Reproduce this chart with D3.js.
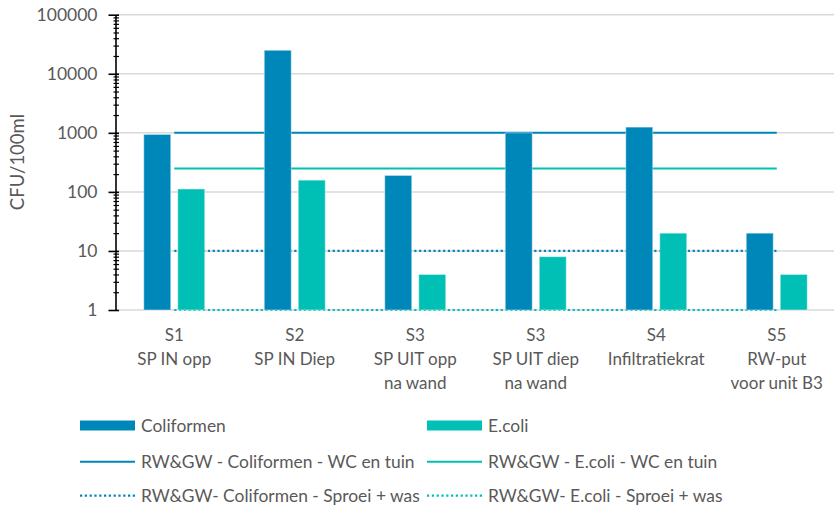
<!DOCTYPE html>
<html><head><meta charset="utf-8">
<script src="https://cdn.jsdelivr.net/npm/d3@7"></script>
<style>
html,body{margin:0;padding:0;background:#fff;}
text{font-family:Lato, "Open Sans", sans-serif;fill:#595959;}
</style>
</head><body>
<svg id="c" width="834" height="509"></svg>
<script>
const categories = [
  ["S1","SP IN opp"],
  ["S2","SP IN Diep"],
  ["S3","SP UIT opp","na wand"],
  ["S3","SP UIT diep","na wand"],
  ["S4","Infiltratiekrat"],
  ["S5","RW-put","voor unit B3"]
];
const seriesNames = ["Coliformen","E.coli"];
const coliformen = [940, 25000, 190, 1000, 1250, 20];
const ecoli = [112, 158, 4, 8, 20, 4];
const normColiWC = [1000,1000,1000,1000,1000,1000];
const normEcoliWC = [250,250,250,250,250,250];
const normColiSproei = [10,10,10,10,10,10];
const normEcoliSproei = [1,1,1,1,1,1];
const yTicks = [1,10,100,1000,10000,100000];
const yTitle = "CFU/100ml";
const legendLabels = [
  "Coliformen","E.coli",
  "RW&GW - Coliformen - WC en tuin","RW&GW - E.coli - WC en tuin",
  "RW&GW- Coliformen - Sproei + was","RW&GW- E.coli - Sproei + was"
];

const BLUE = "#0087b9", TEAL = "#00bfb4";
const svg = d3.select("#c");
const catIdx = categories.map((d,i)=>i);

const x0 = d3.scaleBand().domain(catIdx).range([114, 837]).paddingInner(0).paddingOuter(0);
const x1 = d3.scaleBand().domain(seriesNames).range([0, x0.bandwidth()]).paddingInner(7/34).paddingOuter(0.875);
const y = d3.scaleLog().domain([1, 100000]).range([310, 14.7]);

// gridlines
svg.append("g").selectAll("line").data(yTicks).join("line")
  .attr("x1", 116).attr("x2", 834)
  .attr("y1", d=>y(d)).attr("y2", d=>y(d))
  .attr("stroke", "#d9d9d9").attr("stroke-width", 1.5);

// norm lines
const cx = i => x0(i) + x0.bandwidth()/2;
const line = d3.line().x((d,i)=>cx(i)).y(d=>y(d));
const lines = [
  {v: normColiWC, c: BLUE, dash: null},
  {v: normEcoliWC, c: TEAL, dash: null},
  {v: normColiSproei, c: BLUE, dash: "2.2,2.6"},
  {v: normEcoliSproei, c: TEAL, dash: "2.2,2.6"}
];
svg.append("g").selectAll("path").data(lines).join("path")
  .attr("d", d=>line(d.v)).attr("fill","none")
  .attr("stroke", d=>d.c).attr("stroke-width", d=>d.dash?2.2:2)
  .attr("stroke-dasharray", d=>d.dash);

// bars
const barData = [];
catIdx.forEach(i=>{
  barData.push({i, s:"Coliformen", v:coliformen[i], c:BLUE});
  barData.push({i, s:"E.coli", v:ecoli[i], c:TEAL});
});
svg.append("g").selectAll("rect").data(barData).join("rect")
  .attr("x", d=>x0(d.i)+x1(d.s)).attr("width", x1.bandwidth())
  .attr("y", d=>y(d.v)).attr("height", d=>y(1)-y(d.v))
  .attr("fill", d=>d.c).attr("stroke","rgba(255,255,255,0.45)").attr("stroke-width",1);

// y axis
const axisX = 115.5;
const yAxis = svg.append("g").attr("transform", `translate(${axisX},0)`)
  .call(d3.axisLeft(y).tickValues(yTicks).tickFormat(d3.format("d")).tickSizeInner(7).tickSizeOuter(0).tickPadding(11));
yAxis.select(".domain").attr("stroke","#000").attr("stroke-width",1.6);
yAxis.selectAll(".tick line").attr("x1",3.5).attr("stroke","#000").attr("stroke-width",1.6);
yAxis.selectAll(".tick text").attr("font-size","17.5px").attr("fill","#595959")
  .style("font-family","Lato, sans-serif");

const minors = [];
for (let e=0;e<5;e++) for (let m=2;m<=9;m++) minors.push(m*Math.pow(10,e));
const yMinor = svg.append("g").attr("transform", `translate(${axisX},0)`)
  .call(d3.axisLeft(y).tickValues(minors).tickFormat("").tickSizeInner(2).tickSizeOuter(0));
yMinor.select(".domain").remove();
yMinor.selectAll(".tick line").attr("x1",3.5).attr("stroke","#000").attr("stroke-width",1.2);

// y title
svg.append("text").attr("transform","translate(24,162) rotate(-90)")
  .attr("text-anchor","middle").attr("font-size","18.5px").text(yTitle);

// category labels
const cl = svg.append("g");
categories.forEach((lab,i)=>{
  const t = cl.append("text").attr("text-anchor","middle").attr("font-size","17px");
  lab.forEach((s,k)=>{
    t.append("tspan").attr("x", cx(i)).attr("y", 341 + k*24).text(s);
  });
});

// legend
const lg = svg.append("g");
const cols = [80, 427];
const rows = [425.5, 461.7, 495.7];
legendLabels.forEach((lab,k)=>{
  const col = k%2, row = Math.floor(k/2);
  const c = col===0?BLUE:TEAL;
  const xs = cols[col], yy = rows[row];
  if (row===0) {
    lg.append("rect").attr("x",xs).attr("y",yy-5).attr("width",55).attr("height",10).attr("fill",c);
  } else {
    lg.append("line").attr("x1",xs).attr("x2",xs+55).attr("y1",yy).attr("y2",yy)
      .attr("stroke",c).attr("stroke-width", row===2?2.2:2)
      .attr("stroke-dasharray", row===2?"2.2,2.6":null);
  }
  lg.append("text").attr("x", xs+61).attr("y", yy+6).attr("font-size","17.4px").text(lab);
});
</script>
</body></html>
